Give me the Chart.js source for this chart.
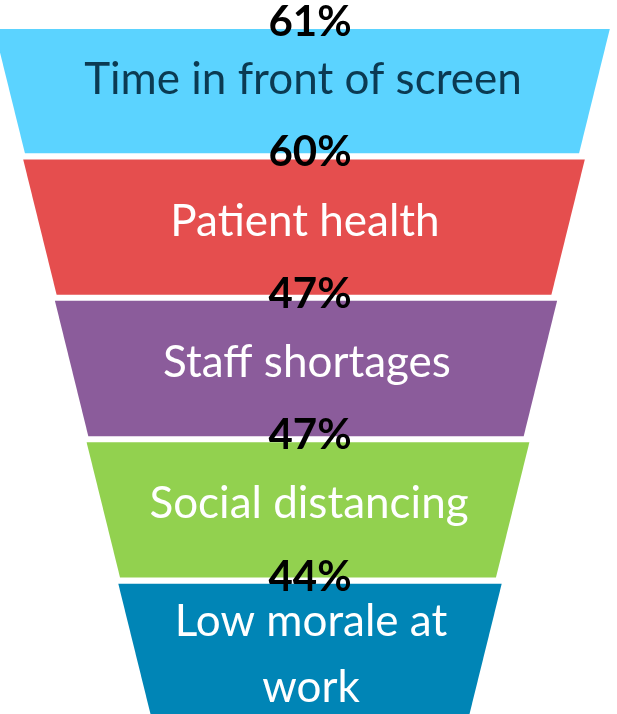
<!DOCTYPE html>
<html><head><meta charset="utf-8">
<script src="https://cdn.jsdelivr.net/npm/chart.js@4.4.1/dist/chart.umd.min.js"></script>
<style>
html,body{margin:0;padding:0;background:#fff;overflow:hidden;}
#wrap{position:relative;width:617px;height:722px;}
</style></head><body>
<div id="wrap"><canvas id="c"></canvas></div>
<script>
// ---- data ----
const categories = ["Time in front of screen", "Patient health", "Staff shortages", "Social distancing", ["Low morale at", "work"]];
const values = [61, 60, 47, 47, 44];
const valueLabels = values.map(v => v + "%");
const fillColors = ["#5BD3FF", "#E54E4E", "#8B5C9B", "#92D14F", "#0085B6"];
const textColors = ["#0B3A52", "#FFFFFF", "#FFFFFF", "#FFFFFF", "#FFFFFF"];

// ---- funnel layout (decorative stepping by rank, x-scale units) ----
const FUNNEL_CENTER = 302, FUNNEL_DRIFT = 2;
const FUNNEL_TOP = 310.5, FUNNEL_STEP = 29.7;
const TAPER = 0.247, CLIP_TOP = 29, LABEL_X = 310;
const spans = categories.map((_, i) => {
  const c = FUNNEL_CENTER + FUNNEL_DRIFT * i;
  const hw = FUNNEL_TOP - FUNNEL_STEP * i;
  return [c - hw, c + hw];
});

const funnelPlugin = {
  id: 'funnel',
  beforeDatasetDraw(chart, args) {
    const ctx = chart.ctx;
    const meta = args.meta;
    ctx.save();
    ctx.beginPath();
    ctx.rect(0, CLIP_TOP, chart.width, chart.height);
    ctx.clip();
    meta.data.forEach((el, i) => {
      const p = el.getProps(['x', 'y', 'base', 'height'], true);
      const l = Math.min(p.x, p.base), r = Math.max(p.x, p.base);
      const y0 = p.y - p.height / 2, y1 = p.y + p.height / 2;
      const inset = TAPER * p.height;
      ctx.beginPath();
      ctx.moveTo(l, y0);
      ctx.lineTo(r, y0);
      ctx.lineTo(r - inset, y1);
      ctx.lineTo(l + inset, y1);
      ctx.closePath();
      ctx.fillStyle = fillColors[i];
      ctx.fill();
    });
    ctx.restore();
    return false;
  },
  afterDatasetsDraw(chart) {
    const ctx = chart.ctx;
    const meta = chart.getDatasetMeta(0);
    const xs = chart.scales.x;
    ctx.save();
    ctx.textAlign = 'center';
    ctx.textBaseline = 'alphabetic';
    meta.data.forEach((el, i) => {
      const p = el.getProps(['x', 'y', 'base', 'height'], true);
      const cx = (p.x + p.base) / 2;
      const lines = Array.isArray(categories[i]) ? categories[i] : [categories[i]];
      const n = lines.length;
      const lineH = 66;
      const mid = p.y - 7 + 9 * (n - 1);
      ctx.font = '44px Lato';
      ctx.fillStyle = textColors[i];
      lines.forEach((t, k) => {
        const capMid = mid - (n - 1) * lineH / 2 + k * lineH;
        ctx.fillText(t, cx + 1, capMid + 15.5);
      });
    });
    meta.data.forEach((el, i) => {
      const p = el.getProps(['x', 'y', 'base', 'height'], true);
      const top = Math.max(p.y - p.height / 2, CLIP_TOP);
      ctx.font = 'bold 42px Lato';
      ctx.fillStyle = '#000000';
      ctx.fillText(valueLabels[i], xs.getPixelForValue(LABEL_X), top + 7);
    });
    ctx.restore();
  }
};

new Chart(document.getElementById('c'), {
  type: 'bar',
  data: {
    labels: categories,
    datasets: [{
      data: spans,
      backgroundColor: fillColors,
      borderWidth: 0,
      categoryPercentage: 1,
      barPercentage: 0.957
    }]
  },
  options: {
    indexAxis: 'y',
    responsive: true,
    maintainAspectRatio: false,
    animation: false,
    layout: { padding: { top: 15, bottom: 0, left: 0, right: 0 } },
    scales: {
      x: { type: 'linear', min: 0, max: 617, display: false },
      y: { display: false, offset: true }
    },
    plugins: { legend: { display: false }, tooltip: { enabled: false } }
  },
  plugins: [funnelPlugin]
});
</script>
</body></html>
